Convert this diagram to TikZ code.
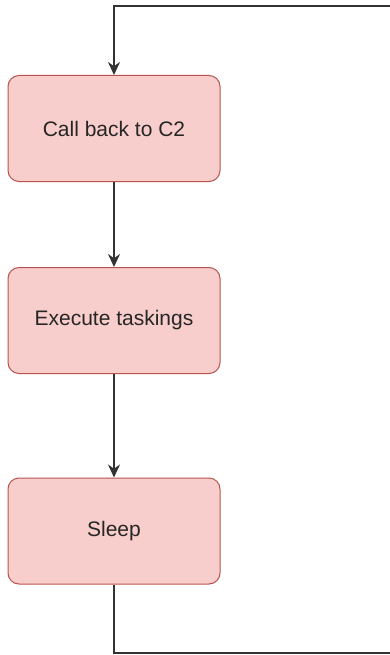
\documentclass[tikz,border=0pt]{standalone}
\usepackage{fontspec}
\setmainfont{Liberation Sans}
\usetikzlibrary{arrows.meta}
\definecolor{boxfill}{HTML}{F8CECC}
\definecolor{boxline}{HTML}{B85450}
\definecolor{flowline}{HTML}{333333}

\begin{document}
\begin{tikzpicture}[x=1pt,y=1pt,
		stepbox/.style={draw=boxline,fill=boxfill,line width=1pt,rounded corners=11pt,minimum width=212pt,minimum height=106pt,font=\fontsize{21}{25}\selectfont,text=black!85},
		flow/.style={-{Stealth[length=13pt,width=12pt]},draw=flowline,line width=2pt}]
		\useasboundingbox (0,0) rectangle (390,-655);
		\clip (0,0) rectangle (390,-655);
		\node (call)  [stepbox] at (114,-128.5) {Call back to C2};
		\node (exec)  [stepbox] at (114,-320.5) {Execute taskings};
		\node (sleep) [stepbox] at (114,-531) {Sleep};
		\coordinate (loopbr) at (400,-653);
		\coordinate (looptr) at (400,-6);
		\draw [flow] (call.south) -- (exec.north);
		\draw [flow] (exec.south) -- (sleep.north);
		\draw [flow,rounded corners=0pt] (sleep.south) |- (loopbr) -- (looptr) -| (call.north);
	\end{tikzpicture}
\end{document}
